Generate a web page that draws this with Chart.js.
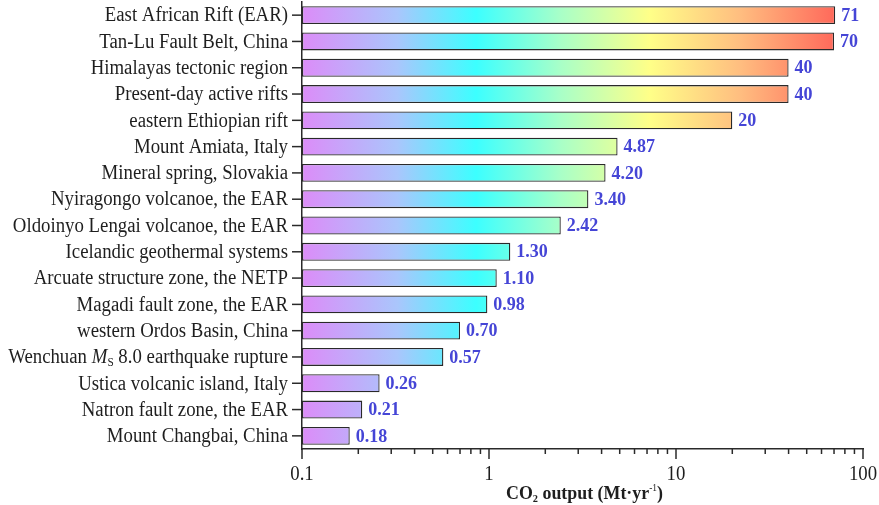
<!DOCTYPE html>
<html>
<head>
<meta charset="utf-8">
<script src="https://cdn.jsdelivr.net/npm/chart.js@4.4.1/dist/chart.umd.min.js"></script>
<style>
  html, body { margin: 0; padding: 0; background: #fff; }
  #wrap { width: 879px; height: 505px; }
</style>
</head>
<body>
<div id="wrap"><canvas id="co2Chart" width="879" height="505"></canvas></div>
<script>
// categories top to bottom; "M_S" is drawn as italic M with subscript S
var sites = [
  'East African Rift (EAR)',
  'Tan-Lu Fault Belt, China',
  'Himalayas tectonic region',
  'Present-day active rifts',
  'eastern Ethiopian rift',
  'Mount Amiata, Italy',
  'Mineral spring, Slovakia',
  'Nyiragongo volcanoe, the EAR',
  'Oldoinyo Lengai volcanoe, the EAR',
  'Icelandic geothermal systems',
  'Arcuate structure zone, the NETP',
  'Magadi fault zone, the EAR',
  'western Ordos Basin, China',
  'Wenchuan M_S 8.0 earthquake rupture',
  'Ustica volcanic island, Italy',
  'Natron fault zone, the EAR',
  'Mount Changbai, China'
];
var outputs = [71, 70, 40, 40, 20, 4.87, 4.20, 3.40, 2.42, 1.30, 1.10, 0.98, 0.70, 0.57, 0.26, 0.21, 0.18];
var majorTicks = [0.1, 1, 10, 100];
var minorSteps = [2, 3, 4, 5, 6, 7, 8, 9];

var SERIF = '"Liberation Serif", "Times New Roman", serif';
var SQUEEZE = 0.94; // reference text is a little narrow

function fmt(v) {
  return v >= 10 ? String(Math.round(v)) : v.toFixed(2);
}

// pieces of a label: plain text, or italic letter + subscript
function pieces(label) {
  var out = [];
  label.split(' ').forEach(function(word, i) {
    var sep = i > 0 ? ' ' : '';
    var m = word.match(/^(\w)_(\w)$/);
    if (m) {
      if (sep) out.push({ t: sep, f: 'normal 20px ' + SERIF, dy: 0 });
      out.push({ t: m[1], f: 'italic 20px ' + SERIF, dy: 0 });
      out.push({ t: m[2], f: 'normal 12px ' + SERIF, dy: 5 });
    } else {
      out.push({ t: sep + word, f: 'normal 20px ' + SERIF, dy: 0 });
    }
  });
  return out;
}

// draws pieces so that they end at xRight (align 'right') or are centred on it
function drawPieces(ctx, parts, xAt, y, align) {
  var total = 0;
  parts.forEach(function(p) { ctx.font = p.f; p.w = ctx.measureText(p.t).width; total += p.w; });
  ctx.save();
  ctx.translate(xAt, y);
  ctx.scale(SQUEEZE, 1);
  var x = align === 'center' ? -total / 2 : -total;
  ctx.textAlign = 'left';
  parts.forEach(function(p) { ctx.font = p.f; ctx.fillText(p.t, x, p.dy); x += p.w; });
  ctx.restore();
}

var axisPlugin = {
  id: 'axisDecor',
  afterDraw: function(chart) {
    var ctx = chart.ctx, xs = chart.scales.x, ys = chart.scales.y;
    var area = chart.chartArea;
    ctx.save();
    ctx.strokeStyle = '#2a2a2a';
    ctx.lineWidth = 1.5;
    ctx.fillStyle = '#1e1e1e';
    ctx.textBaseline = 'middle';

    // y tick marks + category labels
    sites.forEach(function(s, i) {
      var py = ys.getPixelForValue(i);
      ctx.beginPath();
      ctx.moveTo(area.left - 10, py);
      ctx.lineTo(area.left, py);
      ctx.stroke();
      drawPieces(ctx, pieces(s), area.left - 14, py + 1, 'right');
    });

    // x ticks
    var by = area.bottom;
    majorTicks.forEach(function(v, i) {
      var px = xs.getPixelForValue(v);
      ctx.beginPath();
      ctx.moveTo(px, by);
      ctx.lineTo(px, by + 10);
      ctx.stroke();
      drawPieces(ctx, [{ t: String(v), f: 'normal 20px ' + SERIF, dy: 0 }], px, by + 26, 'center');
      if (i < majorTicks.length - 1) {
        minorSteps.forEach(function(m) {
          var mx = xs.getPixelForValue(v * m);
          ctx.beginPath();
          ctx.moveTo(mx, by);
          ctx.lineTo(mx, by + 5);
          ctx.stroke();
        });
      }
    });

    // axis title: CO2 output (Mt·yr-1)
    var parts = [
      { t: 'CO', f: 'bold 19px ' + SERIF, dy: 0 },
      { t: '2', f: 'bold 11px ' + SERIF, dy: 5 },
      { t: ' output (Mt\u00b7yr', f: 'bold 19px ' + SERIF, dy: 0 },
      { t: '-1', f: 'normal 10px ' + SERIF, dy: -6 },
      { t: ')', f: 'bold 19px ' + SERIF, dy: 0 }
    ];
    drawPieces(ctx, parts, (area.left + area.right) / 2 + 2, by + 45, 'center');

    // value labels
    ctx.fillStyle = '#4545d6';
    ctx.font = 'bold 18px ' + SERIF;
    ctx.textAlign = 'left';
    chart.getDatasetMeta(0).data.forEach(function(bar, i) {
      ctx.fillText(fmt(outputs[i]), bar.x + 6, bar.y + 1);
    });
    ctx.restore();
  }
};

var ctx = document.getElementById('co2Chart').getContext('2d');
var myChart = new Chart(ctx, {
  type: 'bar',
  data: {
    labels: sites,
    datasets: [{
      label: 'CO2 output',
      data: outputs,
      backgroundColor: function(c) {
        var area = c.chart.chartArea;
        if (!area) return '#ccc';
        var g = c.chart.ctx.createLinearGradient(area.left, 0, area.right, 0);
        g.addColorStop(0, '#dc8cf8');
        g.addColorStop(0.17, '#aac6fc');
        g.addColorStop(0.31, '#3cffff');
        g.addColorStop(0.46, '#a8ffc8');
        g.addColorStop(0.62, '#ffff88');
        g.addColorStop(0.78, '#ffbe80');
        g.addColorStop(1, '#ff5050');
        return g;
      },
      borderColor: '#2a2a2a',
      borderWidth: 1.3,
      borderSkipped: false,
      categoryPercentage: 1,
      barPercentage: 0.68
    }]
  },
  options: {
    indexAxis: 'y',
    responsive: false,
    animation: false,
    layout: { padding: { top: 2, right: 16 } },
    plugins: {
      legend: { display: false },
      tooltip: { enabled: false }
    },
    scales: {
      x: {
        type: 'logarithmic',
        min: 0.1,
        max: 100,
        grid: { display: false },
        border: { display: true, color: '#2a2a2a', width: 1.5 },
        ticks: { display: false },
        afterFit: function(s) { s.height = 56; }
      },
      y: {
        grid: { display: false },
        border: { display: true, color: '#2a2a2a', width: 1.5 },
        ticks: { display: false },
        afterFit: function(s) { s.width = 302; }
      }
    }
  },
  plugins: [axisPlugin]
});
</script>
</body>
</html>
